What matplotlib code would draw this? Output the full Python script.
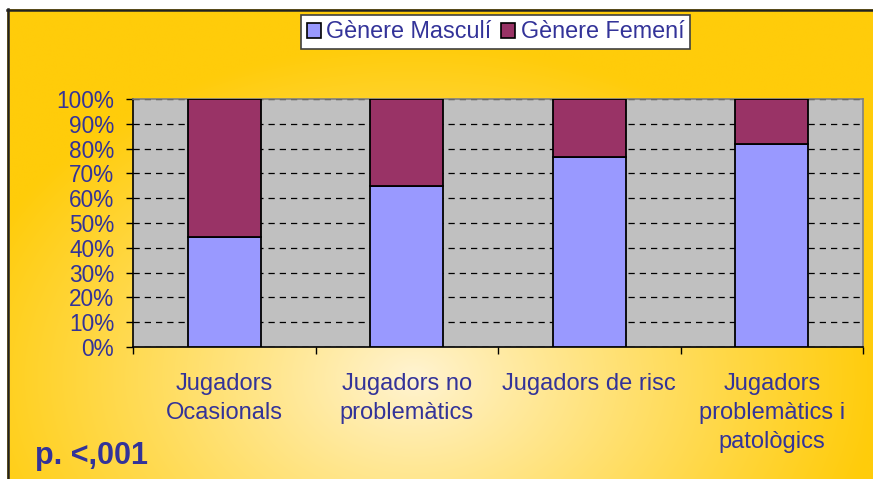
import numpy as np
import matplotlib
matplotlib.use("Agg")
import matplotlib.pyplot as plt
from matplotlib.patches import Patch
from matplotlib.ticker import FixedLocator, PercentFormatter

categories = ["Jugadors\nOcasionals", "Jugadors no\nproblemàtics", "Jugadors de risc",
              "Jugadors\nproblemàtics i\npatològics"]
masculi = [44.5, 65.0, 76.5, 81.7]
femeni = [100 - v for v in masculi]
series_names = ["Gènere Masculí", "Gènere Femení"]
yticks = list(range(0, 101, 10))
note = "p. <,001"

W, H = 873, 479
plt.rcParams['font.family'] = ['Liberation Sans', 'DejaVu Sans']
TXT = '#333399'

fig = plt.figure(figsize=(W / 100, H / 100), dpi=100)
fig.patch.set_facecolor('white')

# background gradient panel
bg = fig.add_axes([0, 0, 1, 1])
bg.set_xlim(0, W)
bg.set_ylim(H, 0)
bg.axis('off')
yy, xx = np.mgrid[0:H, 0:W]
cx, cy, rx, ry = 410, 375, 470, 340
d = np.sqrt(((xx - cx) / rx) ** 2 + ((yy - cy) / ry) ** 2)
t = np.clip(d, 0, 1) ** 0.9
c0 = np.array([255, 244, 212]) / 255
c1 = np.array([255, 204, 10]) / 255
img = c0[None, None, :] * (1 - t[..., None]) + c1[None, None, :] * t[..., None]
bg.imshow(img, extent=(7, W, H, 9), aspect='auto', zorder=0)
bg.plot([7, W], [9.5, 9.5], color='#222222', lw=1.8, zorder=1)
bg.plot([7.5, 7.5], [9, H], color='#222222', lw=1.8, zorder=1)

# main axes
left, right, top, bottom = 133, 863, 99, 347
ax = fig.add_axes([left / W, 1 - bottom / H, (right - left) / W, (bottom - top) / H])
ax.set_facecolor('#C0C0C0')
x = np.arange(len(categories))
ax.bar(x, masculi, width=0.4, color='#9999FF', edgecolor='black', linewidth=1.3, zorder=3,
       label=series_names[0])
ax.bar(x, femeni, bottom=masculi, width=0.4, color='#993366', edgecolor='black', linewidth=1.3,
       zorder=3, label=series_names[1])
ax.set_xlim(-0.5, len(categories) - 0.5)
ax.set_ylim(0, 100)
ax.set_yticks(yticks)
ax.yaxis.set_major_formatter(PercentFormatter(decimals=0))
ax.yaxis.grid(True, color='black', linestyle=(0, (5, 4)), linewidth=0.9, zorder=1)
ax.set_axisbelow(True)
ax.tick_params(axis='y', direction='out', length=5, width=1, colors='black', pad=8.5,
               labelsize=16.3, labelcolor=TXT)
ax.set_xticks(x)
ax.set_xticklabels(categories, fontsize=17, color=TXT, linespacing=1.4)
ax.tick_params(axis='x', which='major', length=0, pad=19)
ax.xaxis.set_minor_locator(FixedLocator(np.arange(-0.5, len(categories), 1.0)))
ax.tick_params(axis='x', which='minor', direction='out', length=5, width=1, colors='black')
for s in ['left', 'bottom']:
    ax.spines[s].set_color('black')
    ax.spines[s].set_linewidth(1.2)
for s in ['top', 'right']:
    ax.spines[s].set_color('#808080')
    ax.spines[s].set_linewidth(1.2)

handles = [Patch(facecolor='#9999FF', edgecolor='black', linewidth=1.2),
           Patch(facecolor='#993366', edgecolor='black', linewidth=1.2)]
leg = fig.legend(handles, series_names, loc='center',
                 bbox_to_anchor=((298 + 693) / 2 / W, 1 - 32 / H), ncol=2, frameon=True,
                 fancybox=False, edgecolor='#404040', facecolor='white', framealpha=1,
                 fontsize=16.8, handlelength=0.6, handleheight=0.6, handletextpad=0.25,
                 columnspacing=0.4, borderpad=0.22, borderaxespad=0)
leg.get_frame().set_linewidth(1.2)
for tx in leg.get_texts():
    tx.set_color(TXT)

fig.text(35 / W, 1 - 464 / H, note, fontsize=22, fontweight='bold', color=TXT,
         ha='left', va='baseline')

fig.savefig('out.png', dpi=100, facecolor=fig.get_facecolor())
